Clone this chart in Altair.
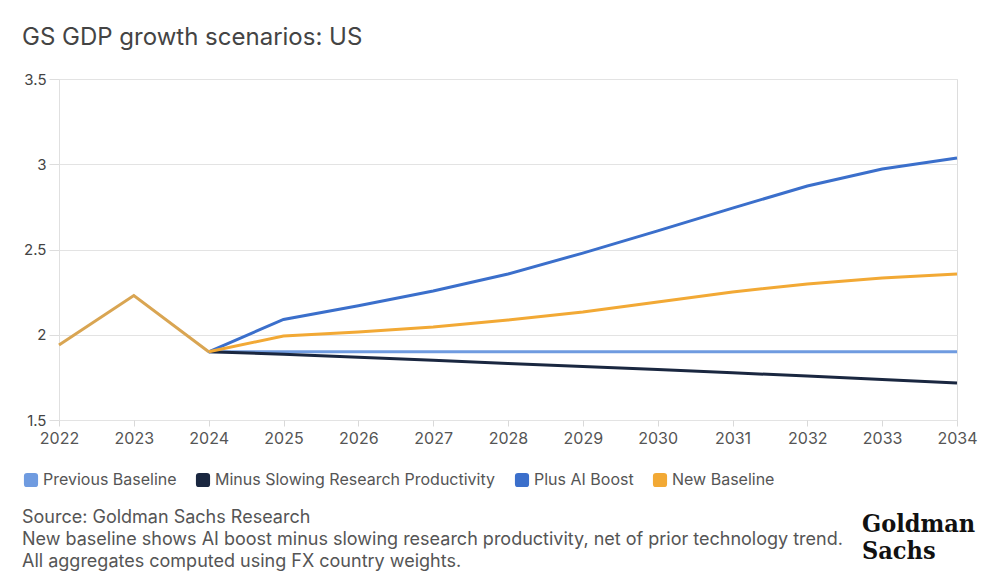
import altair as alt
import pandas as pd

hist_years = [2022, 2023, 2024]
hist_values = [1.94, 2.23, 1.90]

years = [2024, 2025, 2026, 2027, 2028, 2029, 2030, 2031, 2032, 2033, 2034]
previous_baseline = [1.90, 1.90, 1.90, 1.90, 1.90, 1.90, 1.90, 1.90, 1.90, 1.90, 1.90]
minus_slowing = [1.90, 1.886, 1.868, 1.850, 1.832, 1.814, 1.796, 1.777, 1.758, 1.738, 1.717]
plus_ai = [1.90, 2.09, 2.17, 2.257, 2.356, 2.479, 2.609, 2.743, 2.872, 2.972, 3.037]
new_baseline = [1.90, 1.993, 2.016, 2.045, 2.086, 2.133, 2.192, 2.251, 2.298, 2.333, 2.356]

series_names = ["Previous Baseline", "Minus Slowing Research Productivity", "Plus AI Boost", "New Baseline"]
series_colors = ["#6f9be0", "#1a2740", "#3b6fcb", "#f2a935"]
series_values = [previous_baseline, minus_slowing, plus_ai, new_baseline]

x_ticks = list(range(2022, 2035))
y_ticks = [1.5, 2, 2.5, 3, 3.5]

title_text = "GS GDP growth scenarios: US"
footer_lines = [
    "Source: Goldman Sachs Research",
    "New baseline shows AI boost minus slowing research productivity, net of prior technology trend.",
    "All aggregates computed using FX country weights.",
]
logo_lines = ["Goldman", "Sachs"]

rows = []
for i, (name, vals) in enumerate(zip(series_names, series_values)):
    for y, v in zip(years, vals):
        rows.append({"series": name, "year": y, "value": v, "order": i})
df = pd.DataFrame(rows)
hist_df = pd.DataFrame({"year": hist_years, "value": hist_values})

FONT = "Inter"
TXT = "#555555"

x_enc = alt.X("year:Q", scale=alt.Scale(domain=[2022, 2034], nice=False, zero=False),
              axis=alt.Axis(values=x_ticks, format="d", title=None, grid=False,
                            domain=False, ticks=True, tickSize=6, tickColor="#d9d9d9",
                            labelFont=FONT, labelFontSize=16, labelColor=TXT,
                            labelPadding=4, labelFlush=False))
y_enc = alt.Y("value:Q", scale=alt.Scale(domain=[1.5, 3.5], nice=False, zero=False),
              axis=alt.Axis(values=y_ticks, format=".1~f", title=None, grid=True,
                            gridColor="#e3e3e3", domain=True, domainColor="#e0e0e0",
                            ticks=True, tickSize=10, tickColor="#dddddd",
                            labelFont=FONT, labelFontSize=15, labelColor="#444444",
                            labelPadding=3, labelBaseline="middle"))

color_scale = alt.Scale(domain=series_names, range=series_colors)
rounded = "M-1,-0.55 Q-1,-1 -0.55,-1 L0.55,-1 Q1,-1 1,-0.55 L1,0.55 Q1,1 0.55,1 L-0.55,1 Q-1,1 -1,0.55 Z"

legend = alt.Legend(title=None, orient="none", direction="horizontal",
                    legendX=-36, legendY=393,
                    symbolType=rounded, symbolSize=200,
                    symbolStrokeWidth=0, symbolOpacity=1,
                    labelFont=FONT, labelFontSize=16, labelColor=TXT,
                    labelOffset=4, columnPadding=18, labelLimit=400)

lines = alt.Chart(df).mark_line(strokeWidth=3).encode(
    x=x_enc,
    y=y_enc,
    color=alt.Color("series:N", scale=color_scale, sort=series_names, legend=legend),
    order=alt.Order("order:Q"),
    detail="series:N",
)

legend_pts = alt.Chart(df).mark_point(filled=True, opacity=0, shape=rounded, size=1).encode(
    x="year:Q",
    y="value:Q",
    color=alt.Color("series:N", scale=color_scale, sort=series_names, legend=legend),
)

hist = alt.Chart(hist_df).mark_line(strokeWidth=3, color="#d9a552").encode(
    x="year:Q", y="value:Q"
)

text_layers = []
for line, ypos in zip(footer_lines, [439, 461, 483]):
    text_layers.append(
        alt.Chart(pd.DataFrame({"text": [line]})).mark_text(
            align="left", baseline="middle", font=FONT, fontSize=18, color=TXT
        ).encode(text="text:N", x=alt.value(-37), y=alt.value(ypos))
    )
for line, ypos in zip(logo_lines, [445, 472]):
    text_layers.append(
        alt.Chart(pd.DataFrame({"text": [line]})).mark_text(
            align="left", baseline="middle", font="DejaVu Serif Condensed", fontWeight="bold",
            fontSize=25, color="#111111"
        ).encode(text="text:N", x=alt.value(803), y=alt.value(ypos))
    )

chart = alt.layer(lines, hist, legend_pts, *text_layers).properties(
    width=898,
    height=341,
    autosize=alt.AutoSizeParams(type="none"),
    padding={"left": 59, "top": 79, "right": 32, "bottom": 153},
    title=alt.TitleParams(title_text, anchor="start", frame="group", dx=-37, offset=22,
                          font=FONT, fontSize=24, fontWeight="normal", color="#444444"),
).configure_view(stroke=None).configure(background="white")

chart.save("out.html", embed_options={"renderer": "svg", "actions": False})
